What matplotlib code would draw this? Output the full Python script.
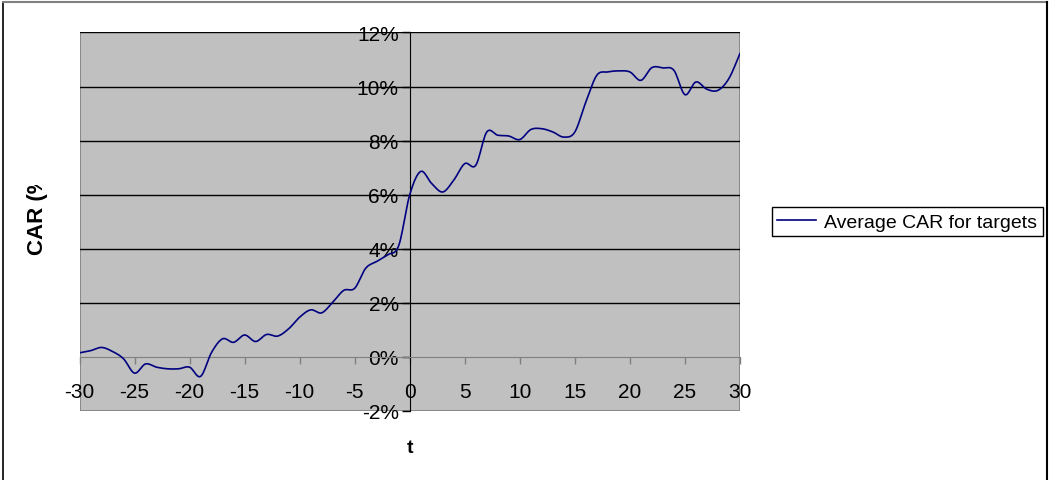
import matplotlib
matplotlib.use('Agg')
import matplotlib.pyplot as plt
from matplotlib.lines import Line2D
from matplotlib.transforms import Bbox
import numpy as np

# Event window (days) and average cumulative abnormal return (%)
days = list(range(-30, 31))
car_pct = [
    0.15, 0.23, 0.35, 0.20, -0.07, -0.60, -0.26, -0.38, -0.44, -0.44,
    -0.38, -0.72, 0.17, 0.67, 0.54, 0.81, 0.57, 0.83, 0.77, 1.04,
    1.47, 1.74, 1.63, 2.02, 2.46, 2.54, 3.28, 3.53, 3.78, 4.12,
    6.00, 6.86, 6.41, 6.10, 6.54, 7.15, 7.09, 8.32, 8.20, 8.17,
    8.04, 8.41, 8.44, 8.32, 8.13, 8.32, 9.43, 10.42, 10.54, 10.58,
    10.54, 10.23, 10.70, 10.69, 10.60, 9.70, 10.17, 9.90, 9.86, 10.30,
    11.22,
]
y_ticks = [-2, 0, 2, 4, 6, 8, 10, 12]
x_ticks = list(range(-30, 31, 5))

plt.rcParams['font.family'] = ['Liberation Sans', 'DejaVu Sans']
plt.rcParams['axes.unicode_minus'] = False


def smooth(x, y, n=12):
    # Catmull-Rom pass through the points, like a spreadsheet "smoothed line"
    x = np.asarray(x, float)
    y = np.asarray(y, float)
    px = np.concatenate([[2 * x[0] - x[1]], x, [2 * x[-1] - x[-2]]])
    py = np.concatenate([[2 * y[0] - y[1]], y, [2 * y[-1] - y[-2]]])
    t = np.linspace(0, 1, n, endpoint=False)
    xs, ys = [], []
    for i in range(1, len(px) - 2):
        for p, out in ((px, xs), (py, ys)):
            p0, p1, p2, p3 = p[i - 1], p[i], p[i + 1], p[i + 2]
            out.extend(0.5 * (2 * p1 + (-p0 + p2) * t
                              + (2 * p0 - 5 * p1 + 4 * p2 - p3) * t ** 2
                              + (-p0 + 3 * p1 - 3 * p2 + p3) * t ** 3))
    xs.append(x[-1])
    ys.append(y[-1])
    return np.array(xs), np.array(ys)


fig = plt.figure(figsize=(10.49, 4.81), dpi=100)
ax = fig.add_axes([0.0758, 0.1435, 0.6296, 0.7869])
ax.set_facecolor('#C0C0C0')

sx, sy = smooth(days, car_pct)
ax.plot(sx, sy, color='#000080', linewidth=1.2, label='Average CAR for targets', zorder=3)

ax.set_xlim(-30, 30)
ax.set_ylim(-2, 12)

for y in y_ticks[2:]:
    ax.axhline(y, color='black', linewidth=1.0, zorder=1)

# axes crossing at the origin
ax.spines['left'].set_position(('data', 0))
ax.spines['left'].set_color('black')
ax.spines['bottom'].set_position(('data', 0))
ax.spines['bottom'].set_color('#808080')
for s in ('top', 'right'):
    ax.spines[s].set_visible(False)
ax.add_patch(plt.Rectangle((0, 0), 1, 1, transform=ax.transAxes, fill=False,
                           edgecolor='#808080', linewidth=1.2, zorder=0.5))

ax.set_yticks(y_ticks)
ax.set_yticklabels([f'{v}%' for v in y_ticks])
ax.set_xticks(x_ticks)
ax.tick_params(axis='y', direction='out', length=6, width=1, color='black',
               labelsize=15, pad=2)
ax.tick_params(axis='x', direction='out', length=5, width=1, color='#808080',
               labelsize=15, pad=13)

fig.text(0.391, 0.068, 't', fontsize=14, fontweight='bold', ha='center', va='center')
# axis title is cut off by the chart area in the source layout
ylab = fig.text(0.036, 226 / 481, 'CAR (%)', fontsize=16, fontweight='bold',
                rotation=90, ha='center', va='bottom')
ylab.set_clip_on(True)
ylab.set_clip_box(Bbox.from_extents(0, 0, 1049, 481 - 186))

ax.legend(loc='center left', bbox_to_anchor=(1.048, 0.5), fontsize=14,
          frameon=True, fancybox=False, edgecolor='black', framealpha=1,
          handlelength=2.0, handletextpad=0.4, borderpad=0.3, borderaxespad=0)

# outer chart frame
fig.add_artist(Line2D([0.0025, 0.0025], [0, 0.994], color='black', linewidth=1.2))
fig.add_artist(Line2D([0.0025, 0.9985], [0.994, 0.994], color='#808080', linewidth=1.5))
fig.add_artist(Line2D([0.9985, 0.9985], [0, 0.994], color='black', linewidth=1.5))

fig.savefig('out.png', dpi=100)
plt.close(fig)
